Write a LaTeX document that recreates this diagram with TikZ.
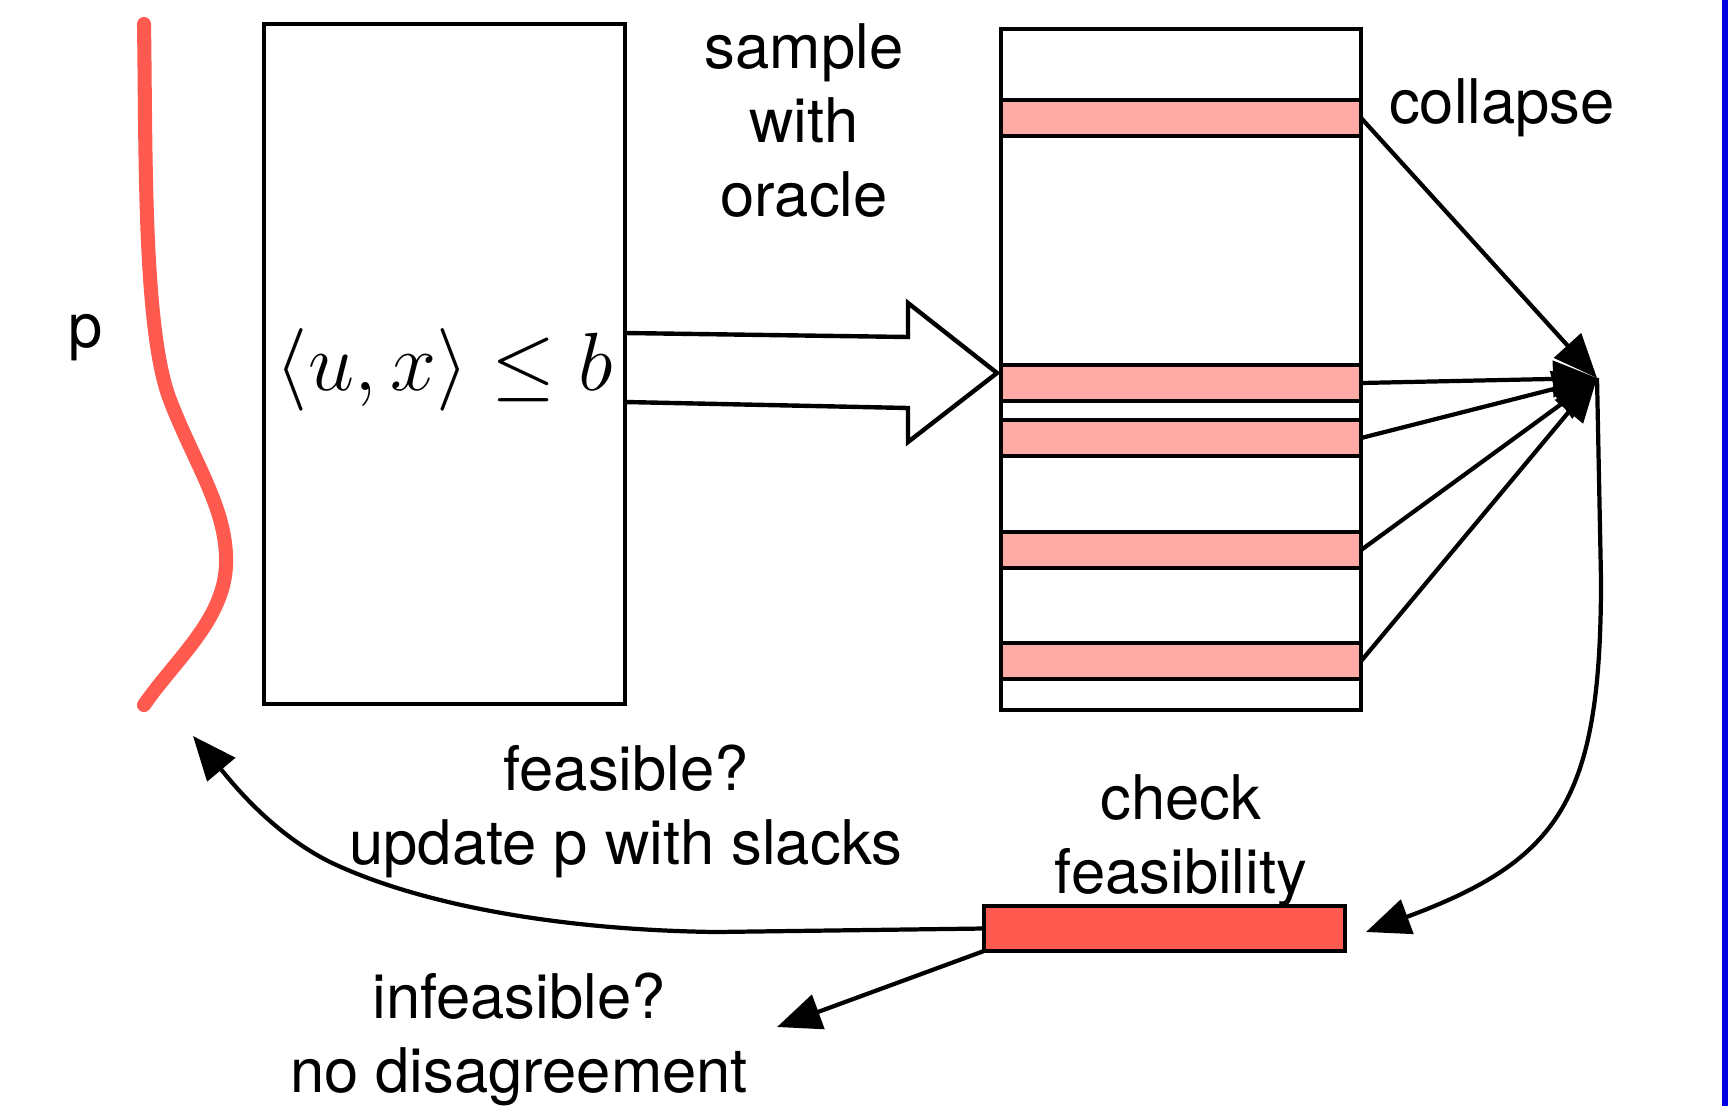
\documentclass[tikz,border=0pt]{standalone}
\usepackage{fix-cm}
\usepackage{fontspec}
\setmainfont{TeX Gyre Heros}
\usetikzlibrary{arrows.meta,calc}

\definecolor{bandpink}{RGB}{255,170,165}
\definecolor{checkred}{RGB}{255,90,80}
\definecolor{edgeblue}{RGB}{0,0,224}

\begin{document}
\begin{tikzpicture}[
  x=0.01cm, y=-0.01cm,
  box/.style={rectangle, draw, line width=1.25pt, inner sep=0pt, outer sep=0pt},
  band/.style={box, fill=bandpink, minimum width=3.6cm, minimum height=0.36cm},
  lbl/.style={align=center, font=\fontsize{17.5}{21}\selectfont, inner sep=0pt},
  arrow/.style={-{Triangle[length=4.4mm, width=3.6mm]}, line width=1.2pt}
]
  \useasboundingbox (0,0) rectangle (1728,1106);
  \fill[edgeblue] (1722,0) rectangle (1728,1106);

  % distribution p over the constraints
  \draw[checkred, line width=4pt, line cap=round]
    (144,24) .. controls (146,150) and (143,330) .. (170,400)
    .. controls (195,465) and (228,510) .. (226,565)
    .. controls (224,620) and (175,660) .. (144,705);
  \node[lbl, anchor=base] (plbl) at (86,347) {p};

  \node[box, minimum width=3.61cm, minimum height=6.8cm,
        font=\fontsize{23.5}{28}\selectfont, text height=21pt, text depth=5.9pt]
    (cons) at (444.5,364) {$\langle u,x\rangle \le b$};

  % sampled constraints
  \node[box, minimum width=3.6cm, minimum height=6.81cm] (stack) at (1181,369.5) {};
  \foreach \y [count=\i] in {118,383,438,550,661}
    \node[band] (b\i) at (1181,\y) {};

  % fat arrow into the sample
  \draw[line width=1.25pt] (625,333) -- (908,337) -- (908,303) -- (997,373)
    -- (908,442) -- (908,408) -- (625,402);
  \node[lbl] (sample) at (804,120.5) {sample\\with\\oracle};

  \node[lbl] (collapse) at (1502,108) {collapse};
  \coordinate (hub) at (1597,378);
  \foreach \i in {1,...,5}
    \draw[arrow] (b\i.east) -- (hub);

  \node[box, fill=checkred, minimum width=3.61cm, minimum height=0.45cm] (check) at (1164.5,928.5) {};
  \node[lbl] (checklbl) at (1181,840.5) {check\\feasibility};
  \coordinate (checkin) at (1366,932);
  \draw[arrow] (hub) -- (1601,580)
    .. controls (1601,800) and (1560,860) .. (checkin);

  % outcomes
  \coordinate (pfoot) at (193,736);
  \coordinate (nodis) at (777,1027);
  \draw[arrow] (check.west) -- (716,932)
    .. controls (560,930) and (420,905) .. (330,862)
    .. controls (270,832) and (230,780) .. (pfoot);
  \node[lbl] (feas) at (626,811.5) {feasible?\\update p with slacks};
  \draw[arrow] (check.south west) -- (nodis);
  \node[lbl] (infeas) at (519,1039.5) {infeasible?\\no disagreement};
\end{tikzpicture}
\end{document}
